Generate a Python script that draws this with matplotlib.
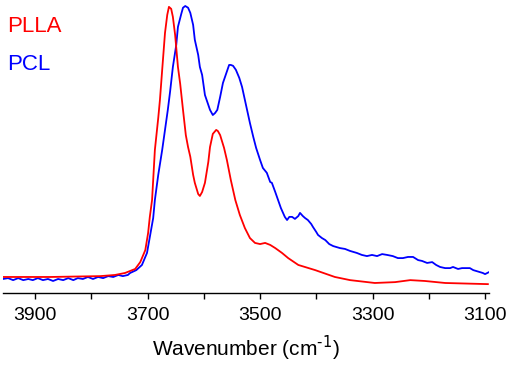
import matplotlib
matplotlib.use("Agg")
import matplotlib.pyplot as plt
from matplotlib.ticker import MultipleLocator

plt.rcParams['font.family'] = ['Liberation Sans', 'DejaVu Sans']

# PLLA spectrum (wavenumber cm-1, normalised absorbance)
plla_wn = [3957, 3873, 3784, 3758, 3740, 3731, 3722, 3713, 3704, 3699, 3696, 3692,
           3687, 3681, 3678, 3674, 3669, 3665, 3662, 3658, 3655, 3651, 3646, 3642,
           3637, 3632, 3628, 3624, 3619, 3616, 3610, 3607, 3603, 3598, 3592, 3589,
           3584, 3578, 3575, 3571, 3564, 3559, 3552, 3544, 3536, 3527, 3518, 3509,
           3500, 3491, 3482, 3473, 3461, 3450, 3432, 3402, 3367, 3340, 3296, 3260,
           3233, 3207, 3171, 3095]
plla_abs = [0.056, 0.056, 0.059, 0.063, 0.070, 0.077, 0.084, 0.108, 0.150, 0.210, 0.266, 0.325,
            0.500, 0.612, 0.675, 0.780, 0.909, 0.972, 1.000, 0.993, 0.965, 0.902, 0.790, 0.731,
            0.640, 0.552, 0.510, 0.476, 0.413, 0.385, 0.346, 0.339, 0.353, 0.385, 0.458, 0.510,
            0.556, 0.570, 0.566, 0.552, 0.507, 0.465, 0.395, 0.325, 0.273, 0.227, 0.192, 0.175,
            0.171, 0.175, 0.168, 0.157, 0.140, 0.122, 0.098, 0.080, 0.056, 0.045, 0.035, 0.038,
            0.045, 0.042, 0.035, 0.031]

# PCL spectrum
pcl_wn = [3957, 3948, 3939, 3930, 3921, 3912, 3904, 3895, 3886, 3877, 3868, 3859,
          3850, 3841, 3832, 3824, 3815, 3806, 3797, 3788, 3779, 3770, 3761, 3752,
          3744, 3735, 3731, 3720, 3710, 3701, 3696, 3690, 3687, 3681, 3674, 3669,
          3664, 3660, 3655, 3649, 3646, 3640, 3637, 3633, 3628, 3624, 3619, 3616,
          3610, 3607, 3603, 3598, 3592, 3589, 3584, 3580, 3576, 3571, 3566, 3560,
          3555, 3552, 3548, 3543, 3537, 3532, 3527, 3523, 3518, 3512, 3507, 3500,
          3495, 3488, 3482, 3479, 3473, 3468, 3463, 3456, 3452, 3448, 3443, 3438,
          3432, 3429, 3424, 3420, 3415, 3409, 3406, 3400, 3397, 3390, 3384, 3377,
          3370, 3358, 3349, 3340, 3328, 3319, 3310, 3301, 3292, 3283, 3274, 3264,
          3255, 3246, 3237, 3228, 3219, 3212, 3203, 3194, 3187, 3180, 3171, 3162,
          3157, 3148, 3141, 3134, 3127, 3121, 3116, 3109, 3104, 3100, 3096, 3093]
pcl_abs = [0.049, 0.052, 0.045, 0.052, 0.045, 0.049, 0.045, 0.052, 0.045, 0.049, 0.042, 0.049,
           0.045, 0.052, 0.045, 0.052, 0.049, 0.056, 0.049, 0.056, 0.052, 0.059, 0.056, 0.063,
           0.059, 0.063, 0.070, 0.080, 0.098, 0.140, 0.196, 0.262, 0.325, 0.413, 0.500, 0.570,
           0.640, 0.703, 0.790, 0.867, 0.930, 0.976, 0.997, 1.003, 0.997, 0.979, 0.937, 0.885,
           0.832, 0.790, 0.762, 0.692, 0.657, 0.640, 0.622, 0.629, 0.640, 0.685, 0.734, 0.769,
           0.797, 0.797, 0.794, 0.780, 0.752, 0.720, 0.675, 0.640, 0.594, 0.545, 0.507, 0.465,
           0.437, 0.420, 0.388, 0.385, 0.353, 0.325, 0.297, 0.266, 0.255, 0.266, 0.266, 0.259,
           0.269, 0.280, 0.269, 0.262, 0.255, 0.241, 0.231, 0.213, 0.203, 0.192, 0.185, 0.171,
           0.164, 0.157, 0.154, 0.147, 0.140, 0.133, 0.129, 0.133, 0.129, 0.136, 0.133, 0.129,
           0.122, 0.122, 0.126, 0.126, 0.115, 0.112, 0.105, 0.108, 0.098, 0.091, 0.087, 0.087,
           0.091, 0.084, 0.087, 0.087, 0.087, 0.080, 0.077, 0.073, 0.070, 0.066, 0.070, 0.073]

fig = plt.figure(figsize=(5.1, 3.69), dpi=100)
ax = fig.add_axes([3 / 510, 1 - 293 / 369, 486 / 510, 293 / 369])

ax.plot(pcl_wn, pcl_abs, color='#0000ff', lw=1.3)
ax.plot(plla_wn, plla_abs, color='#ff0000', lw=1.3)

ax.set_xlim(3957, 3093)
ax.set_ylim(0, 1.024)
ax.set_xticks([3900, 3700, 3500, 3300, 3100])
ax.xaxis.set_minor_locator(MultipleLocator(100))
ax.tick_params(axis='x', which='both', direction='out', length=4, width=1, labelsize=14, pad=6)
ax.set_yticks([])
for s in ['left', 'top', 'right']:
    ax.spines[s].set_visible(False)
ax.spines['bottom'].set_linewidth(1)
ax.set_xlabel('Wavenumber (cm$^{\\text{-1}}$)', fontsize=15, labelpad=7)

fig.text(7 / 510, 1 - 32 / 369, 'PLLA', color='#ff0000', fontsize=16, va='baseline')
fig.text(7 / 510, 1 - 70 / 369, 'PCL', color='#0000ff', fontsize=16, va='baseline')

fig.savefig('out.png', dpi=100)
